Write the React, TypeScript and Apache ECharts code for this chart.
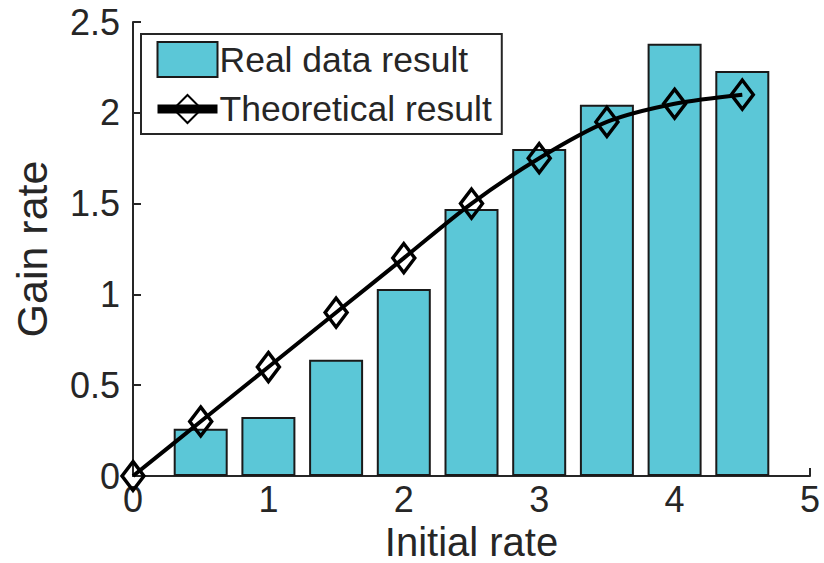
import React, { useEffect, useRef } from "react";
import * as echarts from "echarts";

const barX = [0.5, 1, 1.5, 2, 2.5, 3, 3.5, 4, 4.5];
const barValues = [0.26, 0.325, 0.64, 1.03, 1.47, 1.8, 2.045, 2.38, 2.23];
const lineX = [0, 0.5, 1, 1.5, 2, 2.5, 3, 3.5, 4, 4.5];
const lineValues = [0, 0.3, 0.6, 0.9, 1.2, 1.5, 1.75, 1.95, 2.05, 2.1];
const seriesNames = ["Real data result", "Theoretical result"];
const xTitle = "Initial rate";
const yTitle = "Gain rate";

const FONT = "Liberation Sans, Arial, sans-serif";
const TXT = "#262626";

export default function App() {
  const ref = useRef<HTMLDivElement>(null);
  useEffect(() => {
    if (!ref.current) return;
    const chart = echarts.init(ref.current, undefined, { renderer: "svg" });
    chart.setOption({
      animation: false,
      backgroundColor: "#ffffff",
      textStyle: { fontFamily: FONT },
      grid: {
        left: 133,
        right: 14,
        top: 22,
        bottom: 87,
        outerBoundsMode: "none",
        containLabel: false,
      },
      legend: {
        orient: "vertical",
        left: 141,
        top: 34,
        padding: [7, 10, 7, 12],
        itemGap: 13,
        itemWidth: 60,
        itemHeight: 35,
        backgroundColor: "#ffffff",
        borderColor: TXT,
        borderWidth: 2,
        borderRadius: 0,
        textStyle: { fontSize: 35.5, color: TXT, fontFamily: FONT, padding: [0, 0, 0, -3] },
        data: [
          { name: seriesNames[0], icon: "rect" },
          {
            name: seriesNames[1],
            lineStyle: { width: 9, color: "#000" },
          },
        ],
      },
      xAxis: {
        type: "value",
        min: 0,
        max: 5,
        interval: 1,
        name: xTitle,
        nameLocation: "middle",
        nameGap: 42,
        nameTextStyle: { fontSize: 40, lineHeight: 40, color: TXT, fontFamily: FONT },
        axisLine: { lineStyle: { color: TXT, width: 2 } },
        axisTick: { inside: true, length: 8, lineStyle: { color: TXT, width: 2 } },
        axisLabel: { fontSize: 36, lineHeight: 36, color: TXT, margin: 5, fontFamily: FONT },
        splitLine: { show: false },
      },
      yAxis: {
        type: "value",
        min: 0,
        max: 2.5,
        interval: 0.5,
        name: yTitle,
        nameLocation: "middle",
        nameGap: 80,
        nameTextStyle: { fontSize: 43, lineHeight: 43, color: TXT, fontFamily: FONT },
        axisLine: { show: true, lineStyle: { color: TXT, width: 2 } },
        axisTick: { show: true, inside: true, length: 8, lineStyle: { color: TXT, width: 2 } },
        axisLabel: { fontSize: 36, color: TXT, margin: 13, fontFamily: FONT },
        splitLine: { show: false },
      },
      series: [
        {
          name: seriesNames[0],
          type: "bar",
          data: barX.map((x, i) => [x, barValues[i]]),
          barWidth: 54,
          itemStyle: { color: "#5bc7d7", borderColor: "#1a1a1a", borderWidth: 2 },
          z: 1,
        },
        {
          name: seriesNames[1],
          type: "line",
          data: lineX.map((x, i) => [x, lineValues[i]]),
          smooth: 0.3,
          symbol: "diamond",
          symbolSize: [22, 29],
          showAllSymbol: true,
          lineStyle: { color: "#000", width: 4 },
          itemStyle: { color: "rgba(255,255,255,0)", borderColor: "#000", borderWidth: 3.5 },
          z: 3,
        },
      ],
    });
    return () => chart.dispose();
  }, []);
  return (
    <div
      ref={ref}
      style={{ position: "fixed", left: 0, top: 0, width: 824, height: 563 }}
    />
  );
}
